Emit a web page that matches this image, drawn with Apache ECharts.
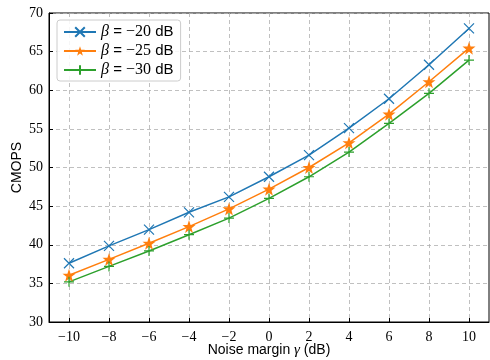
<!DOCTYPE html>
<html>
<head>
<meta charset="utf-8">
<script src="https://cdn.jsdelivr.net/npm/echarts@6/dist/echarts.min.js"></script>
<style>
  html, body { margin: 0; padding: 0; background: #fff; }
  #chart { width: 490px; height: 360px; }
</style>
</head>
<body>
<div id="chart"></div>
<script>
// data
const gammaDb = [-10, -8, -6, -4, -2, 0, 2, 4, 6, 8, 10]
const beta20 = [37.6, 39.85, 41.96, 44.2, 46.2, 48.8, 51.6, 55.1, 58.9, 63.3, 68.0]
const beta25 = [36.05, 38.1, 40.2, 42.35, 44.64, 47.2, 50.0, 53.2, 56.9, 61.1, 65.45]
const beta30 = [35.2, 37.2, 39.2, 41.3, 43.45, 46.0, 48.8, 52.0, 55.7, 59.6, 63.9]
const betaLabels = ['−20', '−25', '−30']
const xTicks = [-10, -8, -6, -4, -2, 0, 2, 4, 6, 8, 10]

const colors = ['#1f77b4', '#ff7f0e', '#2ca02c']
const serif = '"Liberation Serif", "DejaVu Serif", serif'
const sans = '"Liberation Sans", Arial, sans-serif'

const xMark = 'path://M0,0L10,10M10,0L0,10'
const plusMark = 'path://M5,0L5,10M0,5L10,5'
const starMark = 'path://M50,0L61.8,35.1L98.9,35.1L69,57.3L79.4,92.7L50,71.4L20.6,92.7L31,57.3L1.1,35.1L38.2,35.1Z'

const fmtTick = v => (v < 0 ? '−' + Math.abs(v) : String(v))

function makeSeries (name, values, color, symbol, size, filled) {
  return {
    name: name,
    type: 'line',
    data: gammaDb.map((g, i) => [g, values[i]]),
    symbol: symbol,
    symbolSize: size,
    showAllSymbol: true,
    lineStyle: { color: color, width: 1.5 },
    itemStyle: filled
      ? { color: color, borderColor: color, borderWidth: 0 }
      : { color: 'none', borderColor: color, borderWidth: 1.2 },
    emphasis: { disabled: true },
    z: 3
  }
}

const chart = echarts.init(document.getElementById('chart'), null, { renderer: 'canvas' })
const names = betaLabels.map(b => 'β = ' + b + ' dB')

const option = {
  animation: false,
  grid: {
    left: 49, right: 1, top: 13, bottom: 38,
    containLabel: false, outerBoundsMode: 'none',
    show: true, borderColor: '#000', borderWidth: 1
  },
  legend: {
    left: 57, top: 20,
    orient: 'vertical',
    itemWidth: 32, itemHeight: 12, itemGap: 3,
    backgroundColor: 'rgba(255,255,255,0.85)',
    borderColor: '#cccccc', borderWidth: 1, borderRadius: 3,
    padding: [4, 7, 3, 6],
    data: names,
    formatter: n => '{b|β} = {n|' + n.split(' ')[2] + '} dB',
    textStyle: {
      fontFamily: sans, fontSize: 15, color: '#000',
      rich: {
        b: { fontFamily: serif, fontStyle: 'italic', fontSize: 16, color: '#000' },
        n: { fontFamily: serif, fontSize: 16, color: '#000' }
      }
    }
  },
  xAxis: [{
    type: 'value', min: -11, max: 11, interval: 2,
    name: 'Noise margin {g|γ} (dB)', nameLocation: 'middle', nameGap: 21, nameMoveOverlap: false,
    nameTextStyle: {
      fontFamily: sans, fontSize: 14, color: '#000',
      rich: { g: { fontFamily: serif, fontStyle: 'italic', fontSize: 15, color: '#000' } }
    },
    axisLine: { show: true, onZero: false, lineStyle: { color: '#000' } },
    axisTick: { show: true, inside: true, length: 4, lineStyle: { color: '#000' }, customValues: xTicks },
    axisLabel: { fontFamily: serif, fontSize: 14, color: '#000', margin: 8, formatter: fmtTick, customValues: xTicks },
    splitLine: { show: true, lineStyle: { color: '#b0b0b0', type: [4, 3], width: 0.8 } }
  }],
  yAxis: [{
    type: 'value', min: 30, max: 70, interval: 5,
    name: 'CMOPS', nameLocation: 'middle', nameGap: 25, nameMoveOverlap: false,
    nameTextStyle: { fontFamily: sans, fontSize: 14, color: '#000' },
    axisLine: { show: true, onZero: false, lineStyle: { color: '#000' } },
    axisTick: { show: true, inside: true, length: 4, lineStyle: { color: '#000' } },
    axisLabel: { fontFamily: serif, fontSize: 14, color: '#000', margin: 6 },
    splitLine: { show: true, lineStyle: { color: '#b0b0b0', type: [4, 3], width: 0.8 } }
  }],
  series: [
    makeSeries(names[0], beta20, colors[0], xMark, 10, false),
    makeSeries(names[1], beta25, colors[1], starMark, 13, true),
    makeSeries(names[2], beta30, colors[2], plusMark, 10, false)
  ]
}
chart.setOption(option)
</script>
</body>
</html>
